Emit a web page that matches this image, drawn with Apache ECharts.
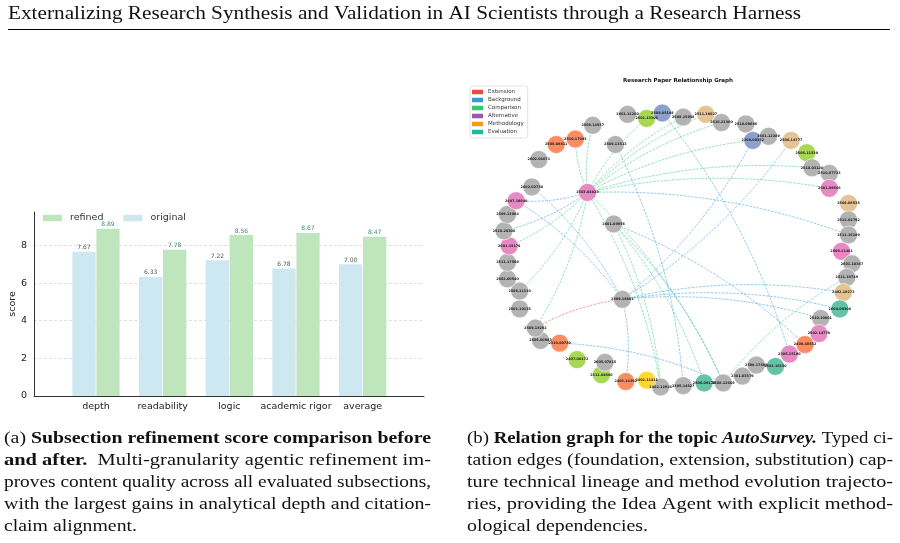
<!DOCTYPE html>
<html><head><meta charset="utf-8">
<script src="https://cdn.jsdelivr.net/npm/echarts@6/dist/echarts.min.js"></script>
<style>html,body{margin:0;padding:0;background:#fff}#c{width:900px;height:543px}</style>
</head><body><div id="c"></div><script>
// ---------- data: bar chart ----------
const categories = ['depth', 'readability', 'logic', 'academic rigor', 'average'];
const originalScores = [7.67, 6.33, 7.22, 6.78, 7.00];
const refinedScores = [8.89, 7.78, 8.56, 8.67, 8.47];
const scoreTicks = [0, 2, 4, 6, 8];

// ---------- data: relation graph ----------
const edgeTypes = ['Extension', 'Background', 'Comparison', 'Alternative', 'Methodology', 'Evaluation'];
const nodeIds = ['2508.14937','2601.11200','2501.13306','2508.05198','2508.15858','2511.18027','2510.21300','2510.09686',
 '2308.00352','2601.12389','2506.14777','2506.11538','2510.03120','2510.07733','2601.09566','2508.08535','2512.02792',
 '2511.16189','2509.11461','2601.10367','2511.18749','2402.18273','2604.09300','2510.20801','2502.14778','2408.40552',
 '2305.15180','2601.16150','2508.17683','2301.03379','2508.12669','2506.09178','2305.14827','2402.12926','2402.11411',
 '2403.14292','2311.04806','2605.07815','2407.00172','2310.00780','2505.00883','2509.18292','2501.10135','2508.11310',
 '2602.00540','2511.17589','2601.15179','2510.20300','2509.13884','2407.18940','2602.02730','2602.04071','2508.08811',
 '2510.17093','2503.04829','2509.13313','2601.09956','2509.18801'];
const nodeX = [-0.49,-0.29,-0.18,-0.09,0.03,0.16,0.25,0.39,0.43,0.52,0.65,0.74,0.77,0.87,0.87,0.98,0.98,0.98,0.94,1.00,
 0.97,0.95,0.93,0.82,0.81,0.73,0.64,0.56,0.45,0.37,0.26,0.15,0.03,-0.10,-0.18,-0.30,-0.44,-0.42,-0.58,-0.68,-0.79,-0.82,
 -0.91,-0.91,-0.98,-0.98,-0.97,-1.00,-0.98,-0.93,-0.84,-0.80,-0.70,-0.59,-0.52,-0.36,-0.37,-0.32];
const nodeY = [0.91,0.99,0.96,1.00,0.97,0.99,0.93,0.92,0.80,0.83,0.80,0.71,0.60,0.56,0.45,0.34,0.22,0.11,-0.01,-0.10,
 -0.20,-0.31,-0.43,-0.50,-0.61,-0.69,-0.76,-0.85,-0.84,-0.92,-0.97,-0.97,-0.99,-1.00,-0.95,-0.96,-0.91,-0.82,-0.80,-0.68,
 -0.66,-0.57,-0.43,-0.30,-0.21,-0.09,0.03,0.14,0.26,0.36,0.46,0.66,0.77,0.81,0.42,0.77,0.19,-0.36];
const nodeGroup = [0,0,3,4,0,5,0,0,4,0,5,3,0,0,1,5,0,0,1,0,0,5,6,0,1,2,1,6,0,0,0,6,0,0,7,2,3,0,3,2,0,0,0,0,0,0,1,0,0,1,0,0,2,2,1,0,0,0];
const edgeSource = [54,54,54,54,54,54,54,54,54,54,54,54,54,56,54,56,30, 54,54,54,50,55,3,8,10,57,57,56,57,56,39,49,57, 41];
const edgeTarget = [2,4,5,6,8,12,14,53,0,46,43,41,33,31,30,33,20, 49,47,17,57,32,26,57,57,21,23,25,35,30,30,57,22, 57];
const edgeType   = [2,2,2,2,2,2,2,2,2,2,2,2,2,2,2,2,2, 1,1,1,1,1,1,1,1,1,1,1,1,1,1,1,1, 0];

// ---------- styles ----------
const SANS = 'DejaVu Sans';
const SERIF = 'Liberation Serif';
const edgeColors = ['#e74c3c', '#3498db', '#2ecc71', '#9b59b6', '#f39c12', '#1abc9c'];
const nodePalette = ['#b3b3b3', '#e78ac3', '#fc8d62', '#a6d854', '#8da0cb', '#e5c494', '#66c2a5', '#ffd92f'];

// ---------- text helpers ----------
const mctx = document.createElement('canvas').getContext('2d');
const CAP = 16.5;
const fonts = {
  n: `${CAP}px "${SERIF}"`,
  b: `bold ${CAP}px "${SERIF}"`,
  bi: `italic bold ${CAP}px "${SERIF}"`
};
function segWidth(segs) {
  let w = 0;
  segs.forEach(([s, t]) => { mctx.font = fonts[s]; w += mctx.measureText(t).width; });
  return w;
}
const rich = {
  n: { fontFamily: SERIF, fontSize: CAP, fontWeight: 'normal', fill: '#111' },
  b: { fontFamily: SERIF, fontSize: CAP, fontWeight: 'bold', fill: '#111' },
  bi: { fontFamily: SERIF, fontSize: CAP, fontWeight: 'bold', fontStyle: 'italic', fill: '#111' }
};
function captionLine(segs, x0, x1, y) {
  const s = (x1 - x0) / segWidth(segs);
  return {
    type: 'text', x: x0, y: y, scaleX: s, silent: true,
    style: { text: segs.map(([k, t]) => `{${k}|${t}}`).join(''), rich: rich, verticalAlign: 'middle', align: 'left' }
  };
}
const capA = [
  [['n', '(a) '], ['b', 'Subsection refinement score comparison before']],
  [['b', 'and after.'], ['n', '  Multi-granularity agentic refinement im-']],
  [['n', 'proves content quality across all evaluated subsections,']],
  [['n', 'with the largest gains in analytical depth and citation-']],
  [['n', 'claim alignment.']]
];
const capB = [
  [['n', '(b) '], ['b', 'Relation graph for the topic '], ['bi', 'AutoSurvey.'], ['n', ' Typed ci-']],
  [['n', 'tation edges (foundation, extension, substitution) cap-']],
  [['n', 'ture technical lineage and method evolution trajecto-']],
  [['n', 'ries, providing the Idea Agent with explicit method-']],
  [['n', 'ological dependencies.']]
];
const graphics = [];
const lineY = [439, 461, 483, 504.5, 526.5];
capA.forEach((segs, i) => graphics.push(captionLine(segs, 4, i === 4 ? 137 : 431, lineY[i])));
capB.forEach((segs, i) => graphics.push(captionLine(segs, 467, i === 4 ? 648 : 893, lineY[i])));
// header
(function () {
  const txt = 'Externalizing Research Synthesis and Validation in AI Scientists through a Research Harness';
  mctx.font = `18.5px "${SERIF}"`;
  const s = (801 - 8) / mctx.measureText(txt).width;
  graphics.push({ type: 'text', x: 8, y: 14, scaleX: s, silent: true,
    style: { text: txt, fontFamily: SERIF, fontSize: 18.5, fill: '#111', verticalAlign: 'middle' } });
  graphics.push({ type: 'line', silent: true, shape: { x1: 8, y1: 29.5, x2: 890, y2: 29.5 }, style: { stroke: '#000', lineWidth: 1 } });
  graphics.push({ type: 'text', x: 678, y: 81, silent: true,
    style: { text: 'Research Paper Relationship Graph', fontFamily: SANS, fontSize: 5.5, fontWeight: 'bold', fill: '#111', align: 'center', verticalAlign: 'middle' } });
})();

// ---------- graph build ----------
const graphNodes = nodeIds.map((id, i) => ({
  name: id, value: [nodeX[i], nodeY[i]], itemStyle: { color: nodePalette[nodeGroup[i]] }
}));
const graphLinks = edgeSource.map((s, i) => ({
  source: s, target: edgeTarget[i], lineStyle: { color: edgeColors[edgeType[i]] }
}));

const chart = echarts.init(document.getElementById('c'), null, { renderer: 'canvas' });
const option = {
  animation: false,
  backgroundColor: '#fff',
  textStyle: { fontFamily: SANS },
  grid: [
    { left: 34, top: 212, width: 390, height: 184 },
    { left: 460.5, top: 78.75, width: 435, height: 342.5 }
  ],
  xAxis: [
    { type: 'value', gridIndex: 0, min: -0.93, max: 4.92,
      axisLine: { show: true, onZero: false, lineStyle: { color: '#333', width: 1 } },
      axisTick: { show: false }, splitLine: { show: false },
      axisLabel: { customValues: [0, 1, 2, 3, 4], formatter: v => categories[Math.round(v)] || '',
        fontSize: 9.5, color: '#222', margin: 6, fontFamily: SANS } },
    { type: 'value', gridIndex: 1, min: -1.25, max: 1.25, show: false },
    // helper axis whose zero sits on the left edge of the bar grid (anchors the y axis line)
    { type: 'value', gridIndex: 0, min: 0, max: 1, show: false }
  ],
  yAxis: [
    { type: 'value', gridIndex: 0, min: 0, max: 9.78, interval: 2, position: 'left',
      name: 'score', nameLocation: 'middle', nameGap: 13,
      nameTextStyle: { fontSize: 9.5, color: '#222', fontFamily: SANS },
      axisLine: { show: true, onZero: true, onZeroAxisIndex: 2, lineStyle: { color: '#333', width: 1 } },
      axisTick: { show: false },
      axisLabel: { customValues: scoreTicks, fontSize: 9.5, color: '#222', margin: 7, fontFamily: SANS },
      splitLine: { show: true, showMinLine: false, showMaxLine: false, lineStyle: { type: [3, 2], color: '#d4d4d4', width: 0.7 } } },
    { type: 'value', gridIndex: 1, min: -1.25, max: 1.25, show: false }
  ],
  legend: [
    { data: ['refined', 'original'], left: 43, top: 213, padding: 0, icon: 'rect', itemWidth: 19, itemHeight: 6.5, itemGap: 20,
      textStyle: { fontSize: 9.5, color: '#333', fontFamily: SANS, padding: [0, 0, 0, 3] } },
    { data: edgeTypes, orient: 'vertical', left: 470, top: 86, icon: 'rect', itemWidth: 11, itemHeight: 4.5, itemGap: 2,
      textStyle: { fontSize: 5.5, color: '#333', fontFamily: SANS, padding: [0, 0, 0, 0] },
      borderColor: '#d0d0d0', borderWidth: 0.6, borderRadius: 2, padding: [3, 4, 3, 2], backgroundColor: '#fff' }
  ],
  graphic: graphics,
  series: [
    { type: 'bar', name: 'original', xAxisIndex: 0, yAxisIndex: 0,
      data: originalScores.map((v, i) => [i, v]), barWidth: 23.3, barGap: '3%',
      itemStyle: { color: '#cde8f0' },
      label: { show: true, position: 'top', distance: 1, fontSize: 6, color: '#555', fontFamily: SANS,
        formatter: p => p.value[1].toFixed(2) } },
    { type: 'bar', name: 'refined', xAxisIndex: 0, yAxisIndex: 0,
      data: refinedScores.map((v, i) => [i, v]), barWidth: 23.3, barGap: '3%',
      itemStyle: { color: '#bfe5bd' },
      label: { show: true, position: 'top', distance: 1, fontSize: 6, color: '#3b8f79', fontFamily: SANS,
        formatter: p => p.value[1].toFixed(2) } },
    ...edgeTypes.map((t, i) => ({ type: 'line', name: t, xAxisIndex: 1, yAxisIndex: 1, data: [],
      itemStyle: { color: edgeColors[i] }, lineStyle: { color: edgeColors[i] } })),
    { type: 'graph', coordinateSystem: 'cartesian2d', xAxisIndex: 1, yAxisIndex: 1,
      symbolSize: 18, data: graphNodes, links: graphLinks, silent: true,
      itemStyle: { borderColor: '#fff', borderWidth: 0.6 },
      label: { show: true, position: 'inside', fontSize: 3.4, fontWeight: 'bold', color: '#222', fontFamily: SANS },
      lineStyle: { width: 0.75, opacity: 0.7, curveness: 0.1, type: [2.5, 1.2] } }
  ]
};
chart.setOption(option);
</script></body></html>
